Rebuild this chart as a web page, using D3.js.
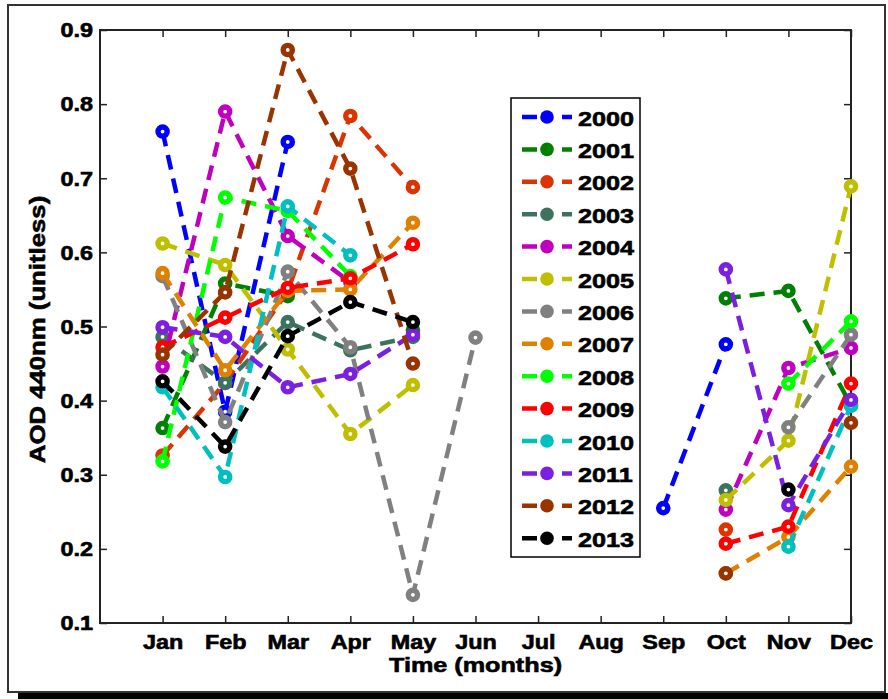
<!DOCTYPE html>
<html>
<head>
<meta charset="utf-8">
<script src="https://cdn.jsdelivr.net/npm/d3@7"></script>
<style>
  body { margin: 0; background: #fff; }
  text { font-family: "Liberation Sans", Arial, sans-serif; font-weight: bold; fill: #000;
         stroke: #000; stroke-width: 0.6px; }
</style>
</head>
<body>
<div id="chart"></div>
<script>
const width = 888;
const height = 699;

const months = ['Jan', 'Feb', 'Mar', 'Apr', 'May', 'Jun', 'Jul', 'Aug', 'Sep', 'Oct', 'Nov', 'Dec'];
const years = ['2000', '2001', '2002', '2003', '2004', '2005', '2006', '2007', '2008', '2009', '2010', '2011', '2012', '2013'];
const yTicks = [0.1, 0.2, 0.3, 0.4, 0.5, 0.6, 0.7, 0.8, 0.9];

const aod2000 = [0.763, 0.385, 0.749, null, null, null, null, null, 0.255, 0.476, null, null];
const aod2001 = [0.363, 0.558, 0.541, null, 0.495, null, null, null, null, 0.538, 0.548, 0.394];
const aod2002 = [0.326, 0.424, 0.548, 0.784, 0.688, null, null, null, null, 0.226, null, null];
const aod2003 = [0.486, 0.424, 0.506, 0.468, 0.486, null, null, null, null, 0.279, null, null];
const aod2004 = [0.446, 0.790, 0.622, 0.560, null, null, null, null, null, 0.253, 0.444, 0.471];
const aod2005 = [0.612, 0.583, 0.469, 0.355, 0.421, null, null, null, null, 0.266, 0.346, 0.689];
const aod2006 = [0.568, 0.371, 0.574, 0.472, 0.138, 0.485, null, null, null, null, 0.364, 0.489];
const aod2007 = [0.572, 0.441, 0.548, 0.550, 0.640, null, null, null, null, 0.167, 0.216, 0.311];
const aod2008 = [0.318, 0.674, 0.656, 0.568, null, null, null, null, null, null, 0.423, 0.507];
const aod2009 = [0.472, 0.512, 0.552, 0.565, 0.611, null, null, null, null, 0.207, 0.230, 0.423];
const aod2010 = [0.418, 0.297, 0.662, 0.596, null, null, null, null, null, null, 0.203, 0.393];
const aod2011 = [0.499, 0.486, 0.418, 0.436, 0.489, null, null, null, null, 0.577, 0.259, 0.401];
const aod2012 = [0.462, 0.546, 0.873, 0.713, 0.450, null, null, null, null, 0.167, null, 0.370];
const aod2013 = [0.426, 0.338, 0.487, 0.533, 0.506, null, null, null, null, null, 0.280, null];

const series = [aod2000, aod2001, aod2002, aod2003, aod2004, aod2005, aod2006,
                aod2007, aod2008, aod2009, aod2010, aod2011, aod2012, aod2013];

const colors = ['#0000ff', '#008000', '#dd3300', '#3d735e', '#bf00bf', '#bfbf00', '#808080',
                '#e08000', '#00ff00', '#ff0000', '#00bfbf', '#7b1fe0', '#993300', '#000000'];

const plot = {left: 100, right: 851, top: 30, bottom: 623};
const stretch = 'scale(1.2,1)';

const svg = d3.select('#chart')
  .append('svg')
    .attr('width', width)
    .attr('height', height);

// figure frame and its shadow
svg.append('rect')
  .attr('x', 18).attr('y', 693)
  .attr('width', width - 18).attr('height', 6)
  .attr('fill', '#000');
svg.append('rect')
  .attr('x', 8).attr('y', 5)
  .attr('width', 877).attr('height', 687)
  .attr('fill', '#fff')
  .attr('stroke', '#333')
  .attr('stroke-width', 2);

const x = d3.scaleLinear()
  .domain([0, 12])
  .range([plot.left, plot.right]);

const y = d3.scaleLinear()
  .domain([0.1, 0.9])
  .range([plot.bottom, plot.top]);

// axes, ticks pointing inward
const gx = svg.append('g')
  .attr('transform', `translate(0,${plot.bottom})`)
  .call(d3.axisBottom(x).tickValues(d3.range(1, 13)).tickFormat(d => months[d - 1])
    .tickSizeInner(-7).tickSizeOuter(0));
gx.selectAll('text')
  .attr('y', null).attr('dy', null)
  .attr('transform', `translate(0,26) ${stretch}`)
  .style('font-size', '19.5px');

const gy = svg.append('g')
  .attr('transform', `translate(${plot.left},0)`)
  .call(d3.axisLeft(y).tickValues(yTicks).tickFormat(d3.format('.1f'))
    .tickSizeInner(-7).tickSizeOuter(0));
gy.selectAll('text')
  .attr('x', null).attr('dy', '0.35em')
  .attr('transform', `translate(-7,0) ${stretch}`)
  .style('font-size', '19.5px');

svg.append('g')
  .attr('transform', `translate(0,${plot.top})`)
  .call(d3.axisTop(x).tickValues(d3.range(1, 13)).tickFormat('')
    .tickSizeInner(-7).tickSizeOuter(0));

svg.append('g')
  .attr('transform', `translate(${plot.right},0)`)
  .call(d3.axisRight(y).tickValues(yTicks).tickFormat('')
    .tickSizeInner(-7).tickSizeOuter(0));

svg.selectAll('.domain').remove();
svg.selectAll('.tick line').attr('stroke', '#222').attr('stroke-width', 1.5);

svg.append('rect')
  .attr('x', plot.left).attr('y', plot.top)
  .attr('width', plot.right - plot.left).attr('height', plot.bottom - plot.top)
  .attr('fill', 'none')
  .attr('stroke', '#222')
  .attr('stroke-width', 2);

// axis titles
svg.append('text')
  .attr('transform', `translate(${(plot.left + plot.right) / 2},672) ${stretch}`)
  .attr('text-anchor', 'middle')
  .style('font-size', '21px')
  .text('Time (months)');

svg.append('text')
  .attr('transform', `translate(45,${(plot.top + plot.bottom) / 2 + 3}) rotate(-90) scale(1.17,1)`)
  .attr('text-anchor', 'middle')
  .style('font-size', '22px')
  .text('AOD 440nm (unitless)');

// series
const line = d3.line()
  .defined(d => d.v != null)
  .x(d => x(d.m))
  .y(d => y(d.v));

const rows = series.map((vals, i) => ({
  year: years[i],
  color: colors[i],
  pts: vals.map((v, j) => ({m: j + 1, v}))
}));

const groups = svg.append('g')
  .selectAll('g')
  .data(rows)
  .join('g');

groups.append('path')
  .attr('d', d => line(d.pts))
  .attr('fill', 'none')
  .attr('stroke', d => d.color)
  .attr('stroke-width', 4.5)
  .attr('stroke-dasharray', '15,9');

groups.selectAll('circle')
  .data(d => d.pts.filter(p => p.v != null).map(p => ({...p, color: d.color})))
  .join('circle')
    .attr('cx', d => x(d.m))
    .attr('cy', d => y(d.v))
    .attr('r', 4.6)
    .attr('fill', '#fff')
    .attr('stroke', d => d.color)
    .attr('stroke-width', 5.4);

// legend
const legend = svg.append('g');
legend.append('rect')
  .attr('x', 511).attr('y', 98)
  .attr('width', 129).attr('height', 459)
  .attr('fill', '#fff')
  .attr('stroke', '#000')
  .attr('stroke-width', 1.5);

const item = legend.selectAll('.item')
  .data(rows)
  .join('g')
    .attr('class', 'item')
    .attr('transform', (d, i) => `translate(0,${117 + i * 32.4})`);

item.append('path')
  .attr('d', 'M522,0H572')
  .attr('stroke', d => d.color)
  .attr('stroke-width', 4.5)
  .attr('stroke-dasharray', '15,25');

item.append('circle')
  .attr('cx', 547).attr('cy', 0)
  .attr('r', 6.8)
  .attr('fill', d => d.color);

item.append('text')
  .attr('transform', `translate(578,8.5) ${stretch}`)
  .style('font-size', '21px')
  .text(d => d.year);
</script>
</body>
</html>
